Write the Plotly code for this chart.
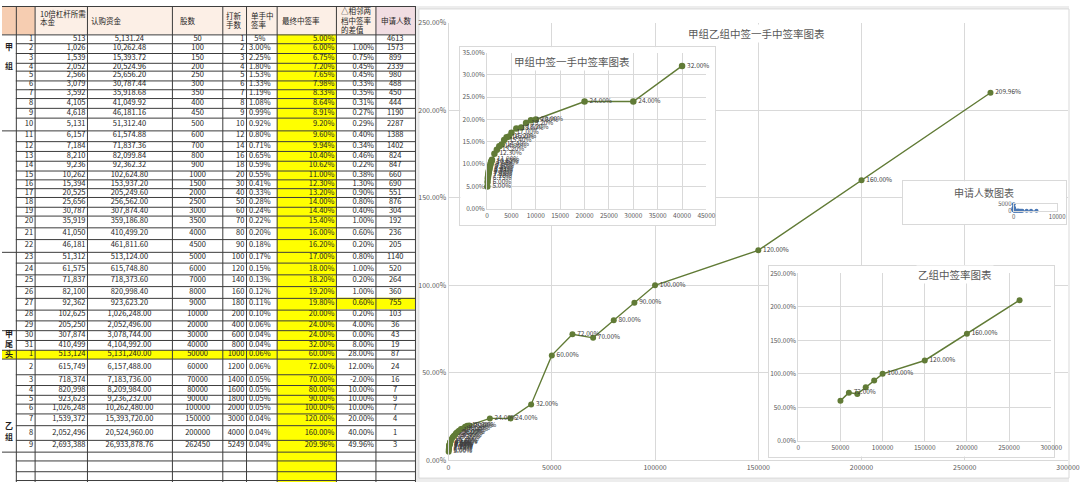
import plotly.graph_objects as go

# ---------------- data ----------------
row_no = list(range(1, 32)) + list(range(1, 10))
principal = [513, 1026, 1539, 2052, 2566, 3079, 3592, 4105, 4618, 5131,
             6157, 7184, 8210, 9236, 10262, 15394, 20525, 25656, 30787, 35919,
             41050, 46181, 51312, 61575, 71837, 82100, 92362, 102625, 205250, 307874,
             410499, 513124, 615749, 718374, 820998, 923623, 1026248, 1539372, 2052496, 2693388]
subscription = [5131.24, 10262.48, 15393.72, 20524.96, 25656.20, 30787.44, 35918.68, 41049.92, 46181.16, 51312.40,
                61574.88, 71837.36, 82099.84, 92362.32, 102624.80, 153937.20, 205249.60, 256562.00, 307874.40, 359186.80,
                410499.20, 461811.60, 513124.00, 615748.80, 718373.60, 820998.40, 923623.20, 1026248.00, 2052496.00, 3078744.00,
                4104992.00, 5131240.00, 6157488.00, 7183736.00, 8209984.00, 9236232.00, 10262480.00, 15393720.00, 20524960.00, 26933878.76]
shares = [50, 100, 150, 200, 250, 300, 350, 400, 450, 500,
          600, 700, 800, 900, 1000, 1500, 2000, 2500, 3000, 3500,
          4000, 4500, 5000, 6000, 7000, 8000, 9000, 10000, 20000, 30000,
          40000, 50000, 60000, 70000, 80000, 90000, 100000, 150000, 200000, 262450]
lots = [1, 2, 3, 4, 5, 6, 7, 8, 9, 10,
        12, 14, 16, 18, 20, 30, 40, 50, 60, 70,
        80, 90, 100, 120, 140, 160, 180, 200, 400, 600,
        800, 1000, 1200, 1400, 1600, 1800, 2000, 3000, 4000, 5249]
single_rate = ["5%", "3.00%", "2.25%", "1.80%", "1.53%", "1.33%", "1.19%", "1.08%", "0.99%", "0.92%",
               "0.80%", "0.71%", "0.65%", "0.59%", "0.55%", "0.41%", "0.33%", "0.28%", "0.24%", "0.22%",
               "0.20%", "0.18%", "0.17%", "0.15%", "0.13%", "0.12%", "0.11%", "0.10%", "0.06%", "0.04%",
               "0.04%", "0.06%", "0.06%", "0.05%", "0.05%", "0.05%", "0.05%", "0.04%", "0.04%", "0.04%"]
final_rate = [5.00, 6.00, 6.75, 7.20, 7.65, 7.98, 8.33, 8.64, 8.91, 9.20,
              9.60, 9.94, 10.40, 10.62, 11.00, 12.30, 13.20, 14.00, 14.40, 15.40,
              16.00, 16.20, 17.00, 18.00, 18.20, 19.20, 19.80, 20.00, 24.00, 24.00,
              32.00, 60.00, 72.00, 70.00, 80.00, 90.00, 100.00, 120.00, 160.00, 209.96]
rate_diff = [None, 1.00, 0.75, 0.45, 0.45, 0.33, 0.35, 0.31, 0.27, 0.29,
             0.40, 0.34, 0.46, 0.22, 0.38, 1.30, 0.90, 0.80, 0.40, 1.00,
             0.60, 0.20, 0.80, 1.00, 0.20, 1.00, 0.60, 0.20, 4.00, 0.00,
             8.00, 28.00, 12.00, -2.00, 10.00, 10.00, 10.00, 20.00, 40.00, 49.96]
applicants = [4613, 1573, 899, 2339, 980, 488, 450, 444, 1190, 2287,
              1388, 1402, 824, 847, 660, 690, 551, 876, 304, 192,
              236, 205, 1140, 520, 264, 360, 755, 103, 36, 43,
              19, 87, 24, 16, 7, 9, 7, 4, 1, 3]
group_labels = {1: "甲", 3: "组", 29: "甲", 30: "尾", 31: "头", 38: "乙<br>组"}
header_lines = [("10倍杠杆所需", 36, 8), ("本金", 36, 16), ("认购资金", 88, 15), ("股数", 178, 15),
                ("打新", 225, 10), ("手数", 225, 19), ("单手中", 250, 10), ("签率", 250, 19),
                ("最终中签率", 281, 15), ("△相邻两", 341, 5), ("档中签率", 341, 14.5), ("的差值", 341, 24),
                ("申请人数", 382, 15)]
N_A = 31  # 甲组 rows; remaining rows = 头 + 乙组
label_b = [False, True, False, False, False, True, True, True, False]

# ---------------- styling / geometry ----------------
W, H = 1080, 486
FONT = "Noto Sans CJK SC"
GREEN = "#617B36"
BLUE = "#4A78B5"
GRID = "#D9D9D9"
TICK = "#595959"
LINE = "#3C3C3C"
YELLOW = "#FFFF00"

col_edges = [0, 14, 33.3, 86, 172.3, 223.3, 246.7, 278.3, 338.3, 378.3, 418.3]
row_edges = [29, 38.3, 48.3, 57.5, 66.3, 75.5, 84.7, 94.2, 103.7, 114.5, 126.7, 137.8, 148.3, 158,
             167.5, 177, 186.2, 195.3, 204.7, 214.2, 225.8, 238, 251, 262.5, 274.2, 286.2, 297.8,
             309.5, 320.7, 331.2, 341.3, 351.3, 360.5, 376, 387.3, 397, 406.2, 415.8, 428.5, 442.7, 455]
blank_edges = [464, 475, 484]
col0_edges = [0, 10, 22, 29, 31, 32, 40]
centers = [(row_edges[i] + row_edges[i + 1]) / 2 for i in range(len(row_edges) - 1)]


def crisp(v):
    return round(v) + 0.5


def px(x):
    return x / W


def py(y):
    return 1 - y / H


fig = go.Figure()
shapes = []


def rect(x0, x1, y0, y1, color, xref="x", yref="y"):
    shapes.append(dict(type="rect", xref=xref, yref=yref, x0=x0, x1=x1, y0=y0, y1=y1,
                       fillcolor=color, line_width=0, layer="below"))


def seg(x0, x1, y0, y1):
    shapes.append(dict(type="line", xref="x", yref="y", x0=x0, x1=x1, y0=y0, y1=y1,
                       line=dict(color=LINE, width=1), layer="below"))


# page background strip and chart frame
shapes.append(dict(type="rect", xref="paper", yref="paper", x0=px(419), x1=1, y0=0, y1=1,
                   fillcolor="#EDEDED", line_width=0, layer="below"))
shapes.append(dict(type="rect", xref="paper", yref="paper", x0=px(422), x1=1, y0=py(482), y1=py(3),
                   fillcolor="white", line=dict(color=GRID, width=1), layer="below"))

# table fills
rect(col_edges[0], col_edges[-1], 0, row_edges[0], "#FCEFE6")
rect(col_edges[0], col_edges[2], 0, row_edges[0], "#F6CDB1")
rect(col_edges[9], col_edges[10], 0, row_edges[0], "#F1DDE2")
rect(col_edges[7], col_edges[8], row_edges[0], H, YELLOW)
rect(col_edges[0], col_edges[8], row_edges[31], row_edges[32], YELLOW)
rect(col_edges[8], col_edges[10], row_edges[26], row_edges[27], YELLOW)

# table grid lines
for i, y in enumerate(row_edges):
    x_start = col_edges[0] if i in col0_edges else col_edges[1]
    seg(x_start, col_edges[-1], crisp(y), crisp(y))
for y in blank_edges:
    seg(col_edges[1], col_edges[-1], crisp(y), crisp(y))
seg(col_edges[0], col_edges[-1], 0.5, 0.5)
for x in col_edges[1:]:
    seg(crisp(x), crisp(x), 0, H)

# table text
table_cols = [
    ([str(v) for v in row_no], 31.5, "middle left"),
    ([f"{v:,}" for v in principal], 84.5, "middle left"),
    ([f"{v:,.2f}" for v in subscription], 129, "middle center"),
    ([str(v) for v in shares], 198, "middle center"),
    ([str(v) for v in lots], 245.3, "middle left"),
    (single_rate, 261, "middle center"),
    ([f"{v:.2f}%" for v in final_rate], 336.5, "middle left"),
    (["" if v is None else f"{v:.2f}%" for v in rate_diff], 376.5, "middle left"),
    ([str(v) for v in applicants], 398, "middle center"),
]
for texts, xa, pos in table_cols:
    fig.add_trace(go.Scatter(x=[xa] * len(texts), y=centers, text=texts, mode="text",
                             textposition=pos, textfont=dict(family=FONT, size=7.5, color="#1E1E1E"),
                             hoverinfo="skip", showlegend=False, xaxis="x", yaxis="y", cliponaxis=False))
g_idx = list(group_labels.keys())
fig.add_trace(go.Scatter(x=[7] * len(g_idx), y=[centers[i] for i in g_idx],
                         text=["<b>" + group_labels[i] + "</b>" for i in g_idx], mode="text",
                         textposition="middle center", textfont=dict(family=FONT, size=8, color="#1E1E1E"),
                         hoverinfo="skip", showlegend=False, xaxis="x", yaxis="y", cliponaxis=False))

annotations = []
for t, xl, yc in header_lines:
    annotations.append(dict(text=t, x=xl, y=yc, xref="x", yref="y", xanchor="left", yanchor="middle",
                            showarrow=False, font=dict(family=FONT, size=7.5, color="#1E1E1E")))

# ---------------- charts ----------------
rates = [v / 100 for v in final_rate]
labels = [f"{v:.2f}%" for v in final_rate]

# main chart (all rows)
fig.add_trace(go.Scatter(x=shares, y=rates, mode="lines+markers+text", text=labels,
                         textposition="middle right", textfont=dict(family=FONT, size=6.5, color="#404040"),
                         line=dict(color=GREEN, width=1.4), marker=dict(color=GREEN, size=6),
                         xaxis="x2", yaxis="y2", showlegend=False, hoverinfo="skip", cliponaxis=False))
# dummy box for inset 1
fig.add_trace(go.Scatter(x=[None], y=[None], xaxis="x3", yaxis="y3", showlegend=False, hoverinfo="skip"))
# inset 1: 甲组
fig.add_trace(go.Scatter(x=shares[:N_A], y=rates[:N_A], mode="lines+markers+text", text=labels[:N_A],
                         textposition="middle right", textfont=dict(family=FONT, size=6.5, color="#404040"),
                         line=dict(color=GREEN, width=1.5), marker=dict(color=GREEN, size=6.5),
                         xaxis="x4", yaxis="y4", showlegend=False, hoverinfo="skip", cliponaxis=False))
# dummy box for inset 2
fig.add_trace(go.Scatter(x=[None], y=[None], xaxis="x5", yaxis="y5", showlegend=False, hoverinfo="skip"))
# inset 2: 乙组 (头 + 乙)
b_text = [lab if f else "" for lab, f in zip(labels[N_A:], label_b)]
fig.add_trace(go.Scatter(x=shares[N_A:], y=rates[N_A:], mode="lines+markers+text", text=b_text,
                         textposition="middle right", textfont=dict(family=FONT, size=6.5, color="#404040"),
                         line=dict(color=GREEN, width=1.5), marker=dict(color=GREEN, size=6),
                         xaxis="x6", yaxis="y6", showlegend=False, hoverinfo="skip", cliponaxis=False))
# dummy box for inset 3
fig.add_trace(go.Scatter(x=[None], y=[None], xaxis="x7", yaxis="y7", showlegend=False, hoverinfo="skip"))
# inset 3: applicants
fig.add_trace(go.Scatter(x=lots, y=applicants, mode="lines+markers",
                         line=dict(color=BLUE, width=1), marker=dict(color=BLUE, size=4),
                         xaxis="x8", yaxis="y8", showlegend=False, hoverinfo="skip", cliponaxis=False))


def chart_axis(domain, rng, dtick, anchor, fmt, size, mirror=False):
    return dict(domain=domain, range=rng, dtick=dtick, tick0=0, anchor=anchor, tickformat=fmt,
                showgrid=True, gridcolor=GRID, gridwidth=1, zeroline=False, showline=True,
                linecolor=GRID, linewidth=1, mirror=mirror, ticks="", fixedrange=True,
                tickfont=dict(family=FONT, size=size, color=TICK))


def box_axis(domain, anchor):
    return dict(domain=domain, range=[0, 1], anchor=anchor, showgrid=False, zeroline=False,
                showticklabels=False, showline=True, mirror=True, linecolor=GRID, linewidth=1,
                ticks="", fixedrange=True)


layout = dict(
    width=W, height=H, autosize=False, margin=dict(l=0, r=0, t=0, b=0, pad=0),
    paper_bgcolor="white", plot_bgcolor="white", showlegend=False, hovermode=False,
    font=dict(family=FONT),
    xaxis=dict(domain=[0, px(420)], range=[0, 420], visible=False, fixedrange=True, anchor="y"),
    yaxis=dict(domain=[0, 1], range=[H, 0], visible=False, fixedrange=True, anchor="x"),
    xaxis2=chart_axis([px(452), px(1079)], [0, 300000], 50000, "y2", "d", 7),
    yaxis2=chart_axis([py(464), py(17)], [0, 2.5], 0.5, "x2", ".2%", 7),
    xaxis3=box_axis([px(464), px(722)], "y3"),
    yaxis3=box_axis([py(224), py(42)], "x3"),
    xaxis4=chart_axis([px(491), px(713)], [0, 45000], 5000, "y4", "d", 6.5),
    yaxis4=chart_axis([py(207), py(47.5)], [0, 0.35], 0.05, "x4", ".2%", 6.5),
    xaxis5=box_axis([px(776), px(1065)], "y5"),
    yaxis5=box_axis([py(460), py(265)], "x5"),
    xaxis6=chart_axis([px(806), px(1062)], [0, 300000], 50000, "y6", "d", 6.5),
    yaxis6=chart_axis([py(444), py(273)], [0, 2.5], 0.5, "x6", ".2%", 6.5),
    xaxis7=box_axis([px(912), px(1077)], "y7"),
    yaxis7=box_axis([py(223), py(179)], "x7"),
    xaxis8=chart_axis([px(1024), px(1068)], [0, 10000], 10000, "y8", "d", 6, mirror=True),
    yaxis8=chart_axis([py(209), py(202)], [0, 5000], 5000, "x8", "d", 6, mirror=True),
)
layout["xaxis8"]["showgrid"] = False
layout["yaxis8"]["showgrid"] = False

titles = [("甲组乙组中签一手中签率图表", 764, 28, 10.5),
          ("甲组中签一手中签率图表", 577, 57, 10.5),
          ("乙组中签率图表", 965, 274, 10.5),
          ("申请人数图表", 994, 190, 10)]
for t, xc, yc, s in titles:
    annotations.append(dict(text=t, x=px(xc), y=py(yc), xref="paper", yref="paper", xanchor="center",
                            yanchor="middle", showarrow=False, bgcolor="white",
                            font=dict(family=FONT, size=s, color=TICK)))

fig.update_layout(**layout)
fig.update_layout(shapes=shapes, annotations=annotations)
fig.write_html("out.html")
